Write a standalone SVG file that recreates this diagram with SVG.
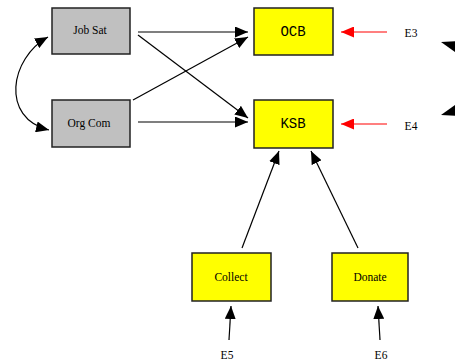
<svg xmlns="http://www.w3.org/2000/svg" width="455" height="363" viewBox="0 0 455 363">
  <style>
    .box { stroke: #222; stroke-width: 1.5; }
    .exo { fill: #c0c0c0; }
    .endo { fill: #ffff00; }
    .lbl { font-family: "Liberation Serif", "Times New Roman", serif; font-size: 11.5px; fill: #000; text-anchor: middle; }
    .mono { font-family: "Liberation Mono", "Courier New", monospace; font-size: 14px; fill: #000; text-anchor: middle; }
    .edge { stroke: #000; stroke-width: 1.2; fill: none; marker-end: url(#arrow); }
    .err { stroke: #ff0000; stroke-width: 1.2; fill: none; marker-end: url(#arrowRed); }
  </style>
  <defs>
    <marker id="arrow" markerUnits="userSpaceOnUse" markerWidth="13" markerHeight="11" refX="13" refY="5.5" orient="auto">
      <path d="M0,0 L13,5.5 L0,11 z" fill="#000"/>
    </marker>
    <marker id="arrowStart" markerUnits="userSpaceOnUse" markerWidth="13" markerHeight="11" refX="0" refY="5.5" orient="auto">
      <path d="M13,0 L0,5.5 L13,11 z" fill="#000"/>
    </marker>
    <marker id="arrowRed" markerUnits="userSpaceOnUse" markerWidth="13" markerHeight="11" refX="13" refY="5.5" orient="auto">
      <path d="M0,0 L13,5.5 L0,11 z" fill="#ff0000"/>
    </marker>
  </defs>

  <rect width="455" height="363" fill="#fff"/>

  <g id="connectors">
    <!-- covariance between the two exogenous variables -->
    <path class="edge" d="M49,130 C0,118 10,58 48,37" marker-start="url(#arrowStart)"/>
    <!-- structural paths -->
    <line class="edge" x1="138" y1="32" x2="248" y2="32"/>
    <line class="edge" x1="138" y1="35" x2="248" y2="118"/>
    <line class="edge" x1="133" y1="100" x2="248" y2="37"/>
    <line class="edge" x1="138" y1="122" x2="248" y2="122"/>
    <line class="edge" x1="242" y1="248" x2="279" y2="151"/>
    <line class="edge" x1="358" y1="248" x2="311" y2="151"/>
    <!-- error terms -->
    <line class="err" x1="387" y1="32" x2="341" y2="32"/>
    <line class="err" x1="387" y1="124" x2="341" y2="124"/>
    <line class="edge" x1="229" y1="340" x2="231" y2="306"/>
    <line class="edge" x1="380" y1="340" x2="378" y2="306"/>
    <!-- error covariance, running off the right edge -->
    <polygon points="441,42 462,41 459,55" fill="#000"/>
    <polygon points="441,115 462,116 459,102" fill="#000"/>
  </g>

  <g id="JobSat">
    <rect class="box exo" x="52" y="8" width="78" height="46"/>
    <text class="lbl" x="90" y="34">Job Sat</text>
  </g>
  <g id="OrgCom">
    <rect class="box exo" x="52" y="100" width="78" height="47"/>
    <text class="lbl" x="89" y="127">Org Com</text>
  </g>
  <g id="OCB">
    <rect class="box endo" x="254" y="8" width="79" height="47"/>
    <text class="mono" x="293" y="36">OCB</text>
  </g>
  <g id="KSB">
    <rect class="box endo" x="254" y="100" width="79" height="48"/>
    <text class="mono" x="293" y="128">KSB</text>
  </g>
  <g id="Collect">
    <rect class="box endo" x="192" y="253" width="79" height="48"/>
    <text class="lbl" x="231" y="281">Collect</text>
  </g>
  <g id="Donate">
    <rect class="box endo" x="332" y="253" width="76" height="48"/>
    <text class="lbl" x="370" y="281">Donate</text>
  </g>
  <g id="E3"><text class="lbl" x="411" y="37">E3</text></g>
  <g id="E4"><text class="lbl" x="411" y="130">E4</text></g>
  <g id="E5"><text class="lbl" x="227" y="359">E5</text></g>
  <g id="E6"><text class="lbl" x="381" y="359">E6</text></g>
</svg>
